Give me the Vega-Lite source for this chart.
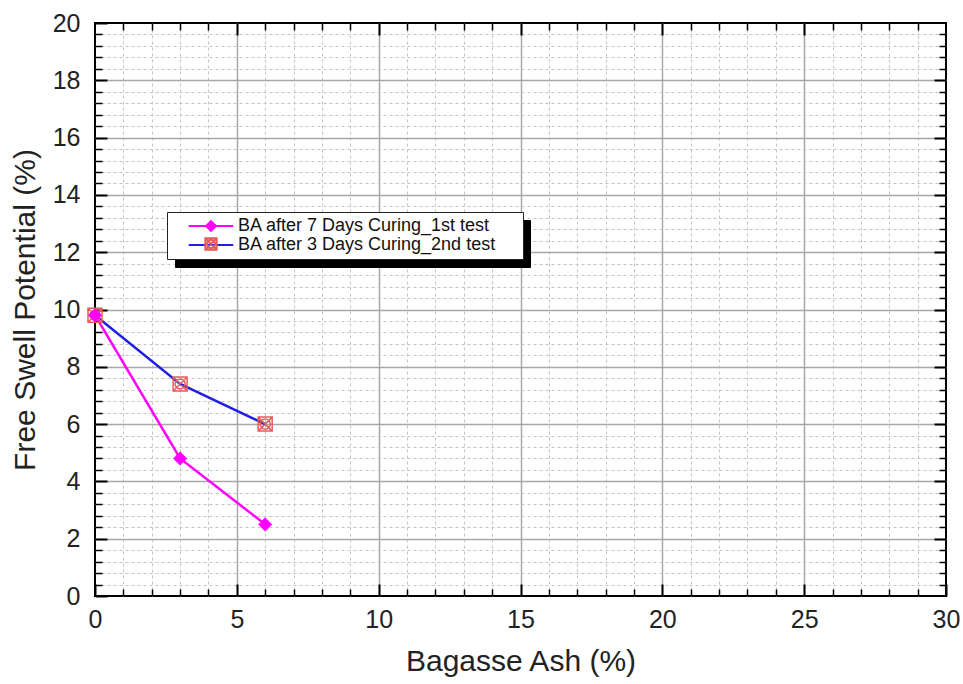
{
  "$schema": "https://vega.github.io/schema/vega-lite/v6.json",
  "width": 851,
  "height": 573,
  "autosize": {"type": "none"},
  "padding": {"left": 95, "top": 23, "right": 17, "bottom": 88},
  "background": "white",
  "config": {
    "font": "Liberation Sans",
    "view": {"stroke": "black", "strokeWidth": 2}
  },
  "data": {
    "values": [
      {"x": 0, "y": 9.8, "series": "BA after 3 Days Curing_2nd test"},
      {"x": 3, "y": 7.4, "series": "BA after 3 Days Curing_2nd test"},
      {"x": 6, "y": 6.0, "series": "BA after 3 Days Curing_2nd test"},
      {"x": 0, "y": 9.8, "series": "BA after 7 Days Curing_1st test"},
      {"x": 3, "y": 4.8, "series": "BA after 7 Days Curing_1st test"},
      {"x": 6, "y": 2.5, "series": "BA after 7 Days Curing_1st test"}
    ]
  },
  "layer": [
    {
      "mark": {"type": "line", "strokeWidth": 2.5},
      "encoding": {
        "x": {
          "field": "x", "type": "quantitative",
          "scale": {"domain": [0, 30], "nice": false, "zero": false},
          "axis": {
            "orient": "bottom", "values": [0, 5, 10, 15, 20, 25, 30],
            "title": "Bagasse Ash (%)", "titleFont": "Liberation Sans", "titleFontSize": 30,
            "titleFontWeight": "normal", "titleColor": "#222", "titlePadding": 14,
            "labelFont": "Liberation Sans", "labelFontSize": 25, "labelColor": "#222",
            "labelPadding": 23, "labelFlush": false, "labelOverlap": false,
            "tickSize": -12, "tickWidth": 2, "tickColor": "black",
            "grid": false, "domain": false
          }
        },
        "y": {
          "field": "y", "type": "quantitative",
          "scale": {"domain": [0, 20], "nice": false, "zero": false},
          "axis": {
            "orient": "left", "values": [0, 2, 4, 6, 8, 10, 12, 14, 16, 18, 20],
            "title": "Free Swell Potential (%)", "titleFont": "Liberation Sans", "titleFontSize": 30,
            "titleFontWeight": "normal", "titleColor": "#222", "titlePadding": 12,
            "labelFont": "Liberation Sans", "labelFontSize": 25, "labelColor": "#222",
            "labelPadding": 27, "labelFlush": false, "labelOverlap": false,
            "tickSize": -12, "tickWidth": 2, "tickColor": "black",
            "grid": false, "domain": false
          }
        },
        "stroke": {
          "field": "series", "type": "nominal",
          "scale": {
            "domain": ["BA after 7 Days Curing_1st test", "BA after 3 Days Curing_2nd test"],
            "range": ["#ff00ff", "#1f1fe6"]
          },
          "legend": {
            "orient": "none", "legendX": 72, "legendY": 189, "zindex": 2,
            "title": "\u00a0", "titleOrient": "right", "titlePadding": 22, "titleFontSize": 8,
            "fillColor": "white", "strokeColor": "#222", "padding": 5,
            "symbolType": "M-3.9,0H3.9", "symbolSize": 130, "symbolStrokeWidth": 2,
            "symbolOffset": 30, "labelOffset": 18, "labelLimit": 500,
            "labelFont": "Liberation Sans", "labelFontSize": 18, "labelColor": "#111",
            "rowPadding": 1
          }
        },
        "opacity": {
          "field": "series", "type": "nominal",
          "scale": {
            "domain": ["BA after 3 Days Curing_2nd test", "BA after 7 Days Curing_1st test"],
            "range": [1, 1]
          },
          "legend": {
            "orient": "none", "legendX": 80, "legendY": 197, "zindex": 1,
            "title": "\u00a0", "titleOrient": "right", "titlePadding": 279, "titleFontSize": 8,
            "titleColor": "black",
            "fillColor": "black", "strokeColor": "black", "padding": 5,
            "symbolType": "M-3.9,0H3.9", "symbolSize": 130, "symbolStrokeWidth": 2,
            "symbolStrokeColor": "black", "symbolFillColor": "black",
            "symbolOffset": 30, "labelOffset": 18, "labelExpr": "''",
            "labelFont": "Liberation Sans", "labelFontSize": 18, "labelColor": "black",
            "rowPadding": 1
          }
        }
      }
    },
    {
      "mark": {"type": "point", "filled": false, "opacity": 1, "size": 196, "strokeWidth": 1.5},
      "encoding": {
        "x": {
          "field": "x", "type": "quantitative",
          "axis": {
            "orient": "top", "values": [5, 10, 15, 20, 25], "title": null,
            "labels": false, "tickSize": -12, "tickWidth": 2, "tickColor": "black",
            "grid": true, "gridColor": "#a8a8a8", "gridWidth": 1.5, "domain": false
          }
        },
        "y": {
          "field": "y", "type": "quantitative",
          "axis": {
            "orient": "right", "values": [2, 4, 6, 8, 10, 12, 14, 16, 18], "title": null,
            "labels": false, "tickSize": -12, "tickWidth": 2, "tickColor": "black",
            "grid": true, "gridColor": "#a8a8a8", "gridWidth": 1.5, "domain": false
          }
        },
        "color": {
          "field": "series", "type": "nominal", "sort": "descending",
          "scale": {"range": ["#ff00ff", "#e35d5d"]},
          "legend": {
            "orient": "none", "legendX": 72, "legendY": 189, "zindex": 3,
            "title": null, "padding": 5,
            "symbolSize": 130, "symbolStrokeWidth": 2, "symbolOffset": 30,
            "labelOffset": 18, "labelExpr": "''", "labelFontSize": 18,
            "rowPadding": -1
          }
        },
        "fill": {
          "field": "series", "type": "nominal", "sort": "descending",
          "scale": {"range": ["#ff00ff", "transparent"]}
        },
        "shape": {
          "field": "series", "type": "nominal", "sort": "descending",
          "scale": {"range": [
            "M0,-0.85L0.85,0L0,0.85L-0.85,0Z",
            "M-1,-1H1V1H-1ZM-1,-1L1,1M1,-1L-1,1M0.72,0A0.72,0.72,0,1,1,-0.72,0A0.72,0.72,0,1,1,0.72,0"
          ]}
        }
      }
    },
    {
      "mark": {"type": "point", "opacity": 0},
      "encoding": {
        "x": {
          "field": "x", "type": "quantitative",
          "axis": {
            "orient": "bottom",
            "values": [1, 2, 3, 4, 6, 7, 8, 9, 11, 12, 13, 14, 16, 17, 18, 19, 21, 22, 23, 24, 26, 27, 28, 29],
            "title": null, "labels": false, "tickSize": -7, "tickWidth": 1.5, "tickColor": "black",
            "grid": true, "gridColor": "#c4c4c4", "gridWidth": 1, "gridDash": [3, 3], "domain": false
          }
        },
        "y": {
          "field": "y", "type": "quantitative",
          "axis": {
            "orient": "left",
            "values": [0.4, 0.8, 1.2, 1.6, 2.4, 2.8, 3.2, 3.6, 4.4, 4.8, 5.2, 5.6, 6.4, 6.8, 7.2, 7.6, 8.4, 8.8, 9.2, 9.6, 10.4, 10.8, 11.2, 11.6, 12.4, 12.8, 13.2, 13.6, 14.4, 14.8, 15.2, 15.6, 16.4, 16.8, 17.2, 17.6, 18.4, 18.8, 19.2, 19.6],
            "title": null, "labels": false, "tickSize": -7, "tickWidth": 1.5, "tickColor": "black",
            "grid": true, "gridColor": "#c4c4c4", "gridWidth": 1, "gridDash": [3, 3], "domain": false
          }
        }
      }
    },
    {
      "mark": {"type": "point", "opacity": 0},
      "encoding": {
        "x": {
          "field": "x", "type": "quantitative",
          "axis": {
            "orient": "top",
            "values": [1, 2, 3, 4, 6, 7, 8, 9, 11, 12, 13, 14, 16, 17, 18, 19, 21, 22, 23, 24, 26, 27, 28, 29],
            "title": null, "labels": false, "tickSize": -7, "tickWidth": 1.5, "tickColor": "black",
            "grid": false, "domain": false
          }
        },
        "y": {
          "field": "y", "type": "quantitative",
          "axis": {
            "orient": "right",
            "values": [0.4, 0.8, 1.2, 1.6, 2.4, 2.8, 3.2, 3.6, 4.4, 4.8, 5.2, 5.6, 6.4, 6.8, 7.2, 7.6, 8.4, 8.8, 9.2, 9.6, 10.4, 10.8, 11.2, 11.6, 12.4, 12.8, 13.2, 13.6, 14.4, 14.8, 15.2, 15.6, 16.4, 16.8, 17.2, 17.6, 18.4, 18.8, 19.2, 19.6],
            "title": null, "labels": false, "tickSize": -7, "tickWidth": 1.5, "tickColor": "black",
            "grid": false, "domain": false
          }
        }
      }
    }
  ],
  "resolve": {"axis": {"x": "independent", "y": "independent"}}
}
